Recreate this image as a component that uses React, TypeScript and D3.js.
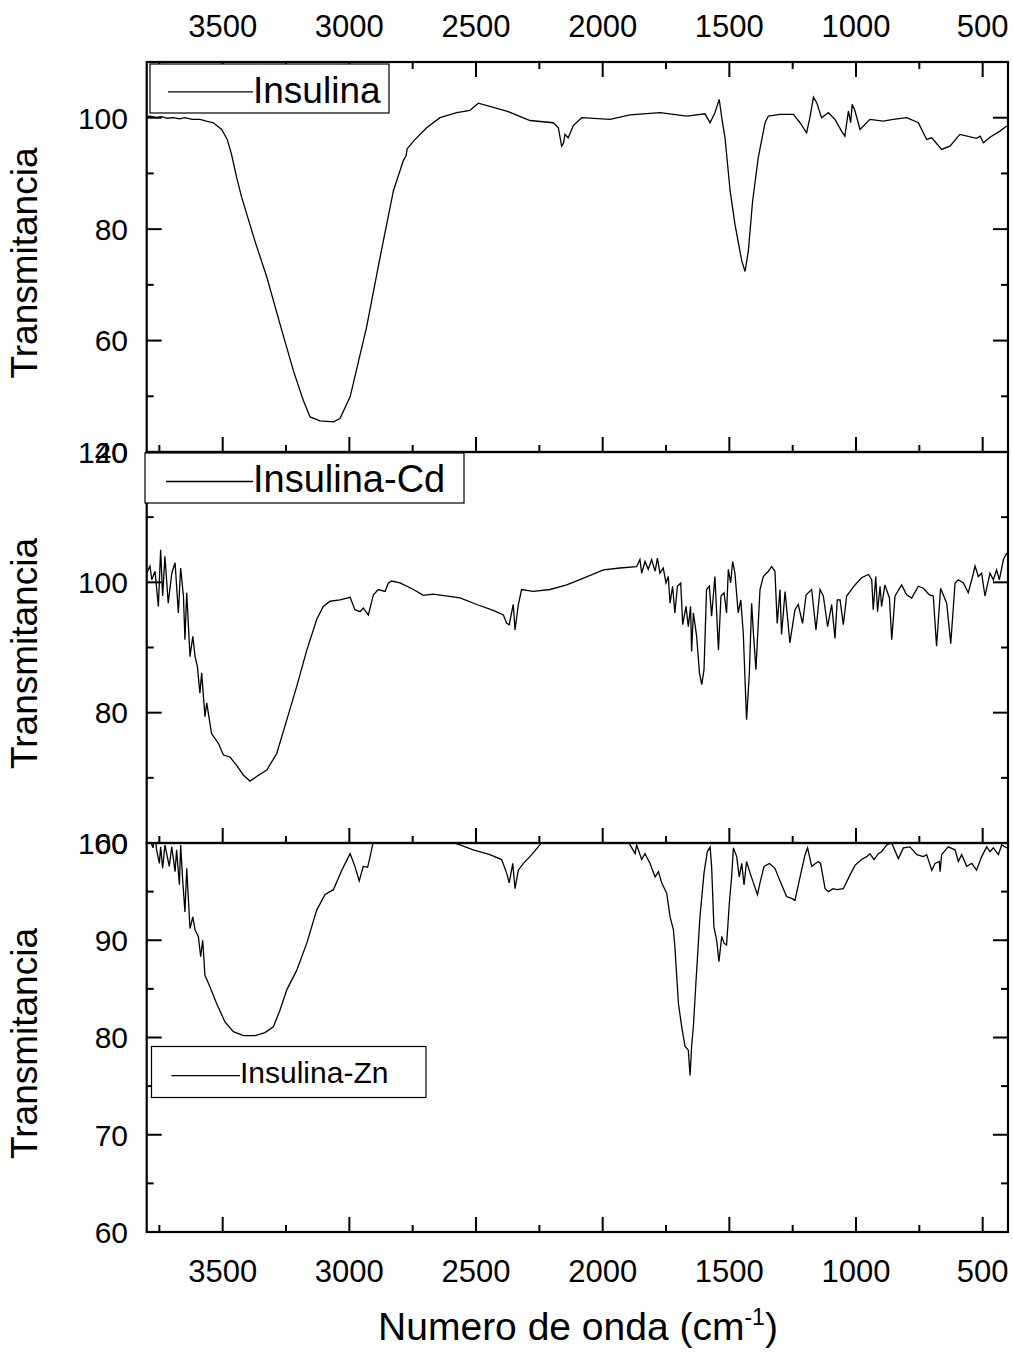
import React from 'react';
import * as d3 from 'd3';

// ---------- axis ticks ----------
const xMajorTicks = [3500, 3000, 2500, 2000, 1500, 1000, 500];
const xMinorTicks = [3750, 3250, 2750, 2250, 1750, 1250, 750];

const topYMajor = [100, 80, 60, 40];
const topYMinor = [90, 70, 50];
const midYMajor = [120, 100, 80, 60];
const midYMinor = [110, 90, 70];
const botYMajor = [100, 90, 80, 70, 60];
const botYMinor = [95, 85, 75, 65];

// ---------- series: Insulina ----------
const insulinaWn = [3800, 3787, 3760, 3740, 3720, 3695, 3670, 3650, 3620, 3590, 3565, 3537, 3504, 3482, 3465, 3445, 3425, 3373, 3326, 3274, 3221, 3182, 3155, 3116, 3063, 3037, 2997, 2932, 2879, 2826, 2787, 2776, 2772, 2747, 2695, 2642, 2576, 2524, 2491, 2379, 2287, 2195, 2175, 2162, 2155, 2149, 2136, 2116, 2083, 1971, 1892, 1774, 1668, 1596, 1576, 1557, 1540, 1530, 1517, 1497, 1478, 1451, 1438, 1425, 1408, 1386, 1359, 1346, 1300, 1247, 1221, 1195, 1182, 1168, 1155, 1136, 1109, 1083, 1057, 1044, 1030, 1021, 1015, 1004, 984, 945, 892, 853, 800, 754, 721, 701, 662, 629, 590, 524, 510, 497, 471, 432, 405];
const insulinaT = [100.2, 100.3, 100.0, 100.2, 99.9, 100.0, 99.8, 100.0, 99.7, 99.7, 99.4, 99.1, 97.9, 96.1, 93.4, 89.3, 85.7, 77.9, 71.4, 63.0, 54.6, 49.3, 46.3, 45.6, 45.4, 46.0, 49.9, 62.4, 74.9, 86.9, 92.3, 93.2, 94.4, 95.8, 98.2, 100.0, 100.9, 101.3, 102.6, 101.2, 99.5, 99.1, 98.2, 94.9, 95.4, 97.0, 96.4, 98.6, 100.0, 99.7, 100.5, 100.9, 100.3, 100.7, 99.1, 100.9, 103.3, 100.0, 96.4, 86.9, 80.9, 74.3, 72.4, 76.1, 85.1, 92.8, 99.1, 100.3, 100.6, 100.6, 99.1, 97.3, 100.0, 103.7, 102.7, 100.0, 100.9, 99.7, 97.6, 96.7, 101.2, 99.1, 102.4, 101.2, 97.9, 99.7, 99.4, 99.7, 100.0, 99.1, 96.1, 96.4, 94.3, 94.9, 97.0, 96.3, 96.7, 95.5, 96.5, 97.6, 98.5];

// ---------- series: Insulina-Cd ----------
const cdWn = [3800, 3787, 3780, 3767, 3754, 3745, 3737, 3728, 3715, 3701, 3688, 3675, 3666, 3655, 3649, 3642, 3629, 3618, 3609, 3600, 3590, 3583, 3570, 3563, 3544, 3517, 3497, 3471, 3445, 3418, 3392, 3366, 3326, 3287, 3247, 3208, 3168, 3129, 3103, 3076, 3037, 2997, 2978, 2958, 2945, 2925, 2905, 2886, 2859, 2846, 2833, 2800, 2747, 2708, 2669, 2563, 2497, 2432, 2392, 2379, 2369, 2353, 2346, 2333, 2320, 2274, 2208, 2142, 2090, 1997, 1932, 1866, 1853, 1846, 1833, 1820, 1807, 1793, 1784, 1774, 1761, 1750, 1741, 1734, 1724, 1715, 1705, 1692, 1684, 1671, 1662, 1653, 1649, 1642, 1629, 1618, 1609, 1600, 1590, 1579, 1570, 1557, 1543, 1533, 1521, 1511, 1504, 1495, 1487, 1478, 1465, 1455, 1445, 1432, 1421, 1412, 1405, 1395, 1379, 1366, 1346, 1333, 1320, 1311, 1300, 1294, 1280, 1261, 1241, 1228, 1211, 1197, 1175, 1158, 1142, 1129, 1112, 1096, 1083, 1074, 1063, 1050, 1037, 1004, 978, 951, 938, 932, 922, 915, 905, 899, 886, 868, 859, 846, 820, 800, 780, 754, 734, 711, 695, 682, 666, 642, 626, 609, 596, 576, 557, 543, 530, 517, 504, 491, 471, 458, 445, 434, 418, 405];
const cdT = [101.4, 102.5, 100.4, 101.7, 96.3, 105.0, 97.9, 104.0, 96.8, 101.4, 103.0, 95.3, 102.2, 97.9, 91.2, 98.4, 88.6, 91.7, 88.6, 87.1, 83.0, 86.1, 79.4, 81.5, 76.8, 75.3, 73.5, 73.2, 71.9, 70.4, 69.5, 70.2, 71.2, 73.7, 78.9, 84.0, 89.6, 94.3, 96.3, 97.1, 97.3, 97.7, 95.8, 95.5, 96.05, 95.0, 98.1, 98.9, 98.6, 99.9, 100.2, 99.9, 98.9, 98.0, 98.2, 97.6, 96.6, 95.7, 95.0, 93.7, 93.5, 96.6, 92.7, 96.6, 98.9, 98.6, 98.9, 99.6, 100.4, 101.9, 102.2, 102.4, 103.5, 101.4, 103.2, 102.0, 103.5, 101.7, 103.7, 101.4, 102.2, 99.9, 100.9, 96.8, 99.4, 95.3, 99.4, 99.9, 93.5, 96.3, 93.2, 96.3, 89.4, 95.3, 91.7, 86.1, 84.3, 86.6, 98.9, 99.4, 94.8, 100.9, 89.6, 97.9, 98.4, 95.3, 102.0, 99.9, 103.2, 101.4, 95.3, 97.3, 92.2, 78.9, 86.1, 96.8, 92.2, 86.6, 98.9, 100.9, 101.7, 102.4, 101.7, 93.7, 98.9, 92.0, 98.6, 90.7, 95.8, 96.6, 93.7, 98.1, 98.9, 92.7, 98.9, 97.9, 93.2, 96.6, 91.4, 97.3, 97.3, 93.5, 97.9, 99.6, 100.7, 101.2, 100.4, 95.8, 100.9, 95.5, 99.4, 96.3, 99.6, 97.6, 91.2, 97.9, 99.6, 98.1, 97.6, 99.4, 99.1, 98.1, 97.9, 90.2, 99.1, 96.8, 90.6, 99.9, 100.4, 99.9, 98.4, 100.4, 102.5, 100.9, 101.4, 97.9, 101.4, 100.4, 101.9, 100.4, 103.5, 104.5];

// ---------- series: Insulina-Zn ----------
const znWn = [3800, 3790, 3775, 3768, 3761, 3750, 3745, 3737, 3728, 3711, 3701, 3688, 3682, 3671, 3666, 3658, 3649, 3642, 3629, 3618, 3609, 3596, 3587, 3579, 3570, 3550, 3524, 3491, 3458, 3418, 3372, 3333, 3300, 3274, 3247, 3208, 3168, 3129, 3096, 3063, 3030, 2997, 2978, 2961, 2945, 2928, 2918, 2905, 2879, 2800, 2700, 2610, 2563, 2511, 2445, 2399, 2379, 2369, 2355, 2346, 2333, 2313, 2280, 2248, 2234, 2200, 2100, 2000, 1900, 1892, 1872, 1866, 1846, 1833, 1813, 1793, 1780, 1767, 1747, 1734, 1721, 1715, 1701, 1688, 1675, 1662, 1655, 1649, 1642, 1632, 1616, 1600, 1587, 1576, 1570, 1561, 1550, 1541, 1530, 1521, 1511, 1500, 1491, 1484, 1471, 1461, 1451, 1442, 1432, 1418, 1405, 1389, 1379, 1363, 1342, 1320, 1297, 1274, 1254, 1241, 1221, 1201, 1191, 1175, 1149, 1140, 1122, 1109, 1090, 1076, 1050, 1024, 1004, 978, 958, 945, 929, 912, 899, 879, 859, 833, 813, 787, 760, 734, 721, 701, 688, 671, 668, 662, 636, 609, 596, 583, 563, 543, 524, 504, 484, 471, 458, 438, 425, 405];
const znT = [101.0, 100.5, 99.5, 101.0, 99.3, 97.9, 99.6, 97.4, 99.8, 97.6, 99.6, 97.05, 99.3, 95.7, 99.8, 96.2, 92.9, 97.4, 91.2, 92.4, 91.05, 90.4, 88.3, 90.0, 86.4, 85.2, 83.5, 81.6, 80.6, 80.2, 80.2, 80.5, 81.1, 82.8, 84.9, 86.9, 89.7, 93.1, 94.7, 95.2, 97.2, 98.9, 97.6, 96.1, 97.6, 97.5, 98.6, 100.2, 101.0, 101.5, 101.5, 100.2, 99.8, 99.3, 98.8, 98.3, 96.9, 95.9, 97.9, 95.3, 97.2, 97.9, 98.8, 99.8, 100.3, 101.0, 101.5, 102.0, 100.5, 99.8, 98.9, 99.8, 98.3, 98.9, 97.9, 96.5, 97.05, 95.9, 94.8, 92.4, 91.1, 89.3, 83.5, 81.1, 79.1, 78.7, 76.1, 79.1, 81.1, 85.6, 92.4, 96.9, 99.1, 99.6, 97.6, 91.4, 90.0, 87.8, 90.4, 89.7, 89.5, 93.8, 96.5, 99.5, 98.6, 96.5, 97.9, 95.7, 98.1, 96.9, 95.9, 94.7, 95.9, 97.6, 97.9, 97.4, 95.9, 94.5, 94.3, 94.1, 96.5, 98.8, 99.5, 97.6, 98.1, 97.9, 95.3, 95.0, 95.3, 95.2, 95.3, 96.7, 97.7, 98.3, 98.6, 98.9, 98.3, 98.9, 99.1, 99.8, 100.0, 98.4, 99.5, 99.6, 98.8, 98.6, 98.8, 97.2, 97.9, 98.1, 97.05, 98.8, 99.6, 99.3, 98.1, 98.8, 97.6, 97.9, 97.2, 98.6, 99.6, 99.1, 99.5, 98.8, 99.8, 99.5];

const legendNames = ['Insulina', 'Insulina-Cd', 'Insulina-Zn'];

const FONT = "Arial, 'Liberation Sans', Helvetica, sans-serif";
const W = 1013;
const H = 1359;
const LEFT = 146.7;
const RIGHT = 1008;
const MAJ = 15;
const MIN = 7;

type Panel = {
  wn: number[];
  t: number[];
  top: number;
  bottom: number;
  domain: [number, number];
  yMajor: number[];
  yMinor: number[];
  topTicks: boolean;
  legend: { name: string; x: number; y: number; w: number; h: number; fs: number; lineX0: number; lineX1: number };
};

const panels: Panel[] = [
  {
    wn: insulinaWn, t: insulinaT, top: 62, bottom: 452, domain: [40, 110],
    yMajor: topYMajor, yMinor: topYMinor, topTicks: true,
    legend: { name: legendNames[0], x: 150, y: 64, w: 239, h: 49, fs: 37, lineX0: 168, lineX1: 253 },
  },
  {
    wn: cdWn, t: cdT, top: 452, bottom: 843, domain: [60, 120],
    yMajor: midYMajor, yMinor: midYMinor, topTicks: false,
    legend: { name: legendNames[1], x: 145, y: 453, w: 319, h: 50, fs: 38, lineX0: 166, lineX1: 253 },
  },
  {
    wn: znWn, t: znT, top: 843, bottom: 1232, domain: [60, 100],
    yMajor: botYMajor, yMinor: botYMinor, topTicks: false,
    legend: { name: legendNames[2], x: 151.5, y: 1046.5, w: 274.5, h: 51, fs: 30, lineX0: 171.5, lineX1: 240 },
  },
];

const x = d3.scaleLinear().domain([3800, 400]).range([LEFT, RIGHT]);

function PanelView({ p, i }: { p: Panel; i: number }) {
  const y = d3.scaleLinear().domain(p.domain).range([p.bottom, p.top]);
  const pts = p.wn.map((w, k) => [w, p.t[k]] as [number, number]);
  const line = d3.line<[number, number]>().x((d) => x(d[0])).y((d) => y(d[1]));
  const clipId = `clip-${i}`;
  const lg = p.legend;
  return (
    <g>
      <defs>
        <clipPath id={clipId}>
          <rect x={LEFT} y={p.top} width={RIGHT - LEFT} height={p.bottom - p.top} />
        </clipPath>
      </defs>
      <path d={line(pts) || ''} fill="none" stroke="#000" strokeWidth={1.3} clipPath={`url(#${clipId})`} />
      {p.yMajor.map((v) => (
        <g key={`ym${v}`}>
          <line x1={LEFT} x2={LEFT + MAJ} y1={y(v)} y2={y(v)} stroke="#000" strokeWidth={2} />
          <line x1={RIGHT} x2={RIGHT - MAJ} y1={y(v)} y2={y(v)} stroke="#000" strokeWidth={2} />
          <text x={128} y={y(v)} dy="0.36em" textAnchor="end" fontSize={30} fontFamily={FONT}>{v}</text>
        </g>
      ))}
      {p.yMinor.map((v) => (
        <g key={`yn${v}`}>
          <line x1={LEFT} x2={LEFT + MIN} y1={y(v)} y2={y(v)} stroke="#000" strokeWidth={2} />
          <line x1={RIGHT} x2={RIGHT - MIN} y1={y(v)} y2={y(v)} stroke="#000" strokeWidth={2} />
        </g>
      ))}
      {xMajorTicks.map((v) => (
        <line key={`xb${v}`} x1={x(v)} x2={x(v)} y1={p.bottom} y2={p.bottom - MAJ} stroke="#000" strokeWidth={2} />
      ))}
      {xMinorTicks.map((v) => (
        <line key={`xbn${v}`} x1={x(v)} x2={x(v)} y1={p.bottom} y2={p.bottom - MIN} stroke="#000" strokeWidth={2} />
      ))}
      {p.topTicks && xMajorTicks.map((v) => (
        <line key={`xt${v}`} x1={x(v)} x2={x(v)} y1={p.top} y2={p.top + MAJ} stroke="#000" strokeWidth={2} />
      ))}
      {p.topTicks && xMinorTicks.map((v) => (
        <line key={`xtn${v}`} x1={x(v)} x2={x(v)} y1={p.top} y2={p.top + MIN} stroke="#000" strokeWidth={2} />
      ))}
      <rect x={LEFT} y={p.top} width={RIGHT - LEFT} height={p.bottom - p.top} fill="none" stroke="#000" strokeWidth={2.2} />
      <text
        transform={`translate(37,${(p.top + p.bottom) / 2 + 6}) rotate(-90)`}
        textAnchor="middle" fontSize={37} fontFamily={FONT}
      >Transmitancia</text>
      <rect x={lg.x} y={lg.y} width={lg.w} height={lg.h} fill="#fff" stroke="#000" strokeWidth={1.2} />
      <line x1={lg.lineX0} x2={lg.lineX1} y1={lg.y + lg.h * 0.57} y2={lg.y + lg.h * 0.57} stroke="#000" strokeWidth={1.3} />
      <text x={lg.lineX1} y={lg.y + lg.h / 2} dy="0.38em" fontSize={lg.fs} fontFamily={FONT}>{lg.name}</text>
    </g>
  );
}

export default function App() {
  return (
    <svg width={W} height={H} style={{ position: 'absolute', left: 0, top: 0, background: '#fff' }}>
      <rect x={0} y={0} width={W} height={H} fill="#fff" />
      {panels.map((p, i) => <PanelView key={i} p={p} i={i} />)}
      {xMajorTicks.map((v) => (
        <text key={`tl${v}`} x={x(v)} y={37} textAnchor="middle" fontSize={31} fontFamily={FONT}>{v}</text>
      ))}
      {xMajorTicks.map((v) => (
        <text key={`bl${v}`} x={x(v)} y={1282} textAnchor="middle" fontSize={31} fontFamily={FONT}>{v}</text>
      ))}
      <text x={578} y={1340} textAnchor="middle" fontSize={39} fontFamily={FONT}>
        Numero de onda (cm
        <tspan dy={-15} fontSize={23}>-1</tspan>
        <tspan dy={15}>)</tspan>
      </text>
    </svg>
  );
}
